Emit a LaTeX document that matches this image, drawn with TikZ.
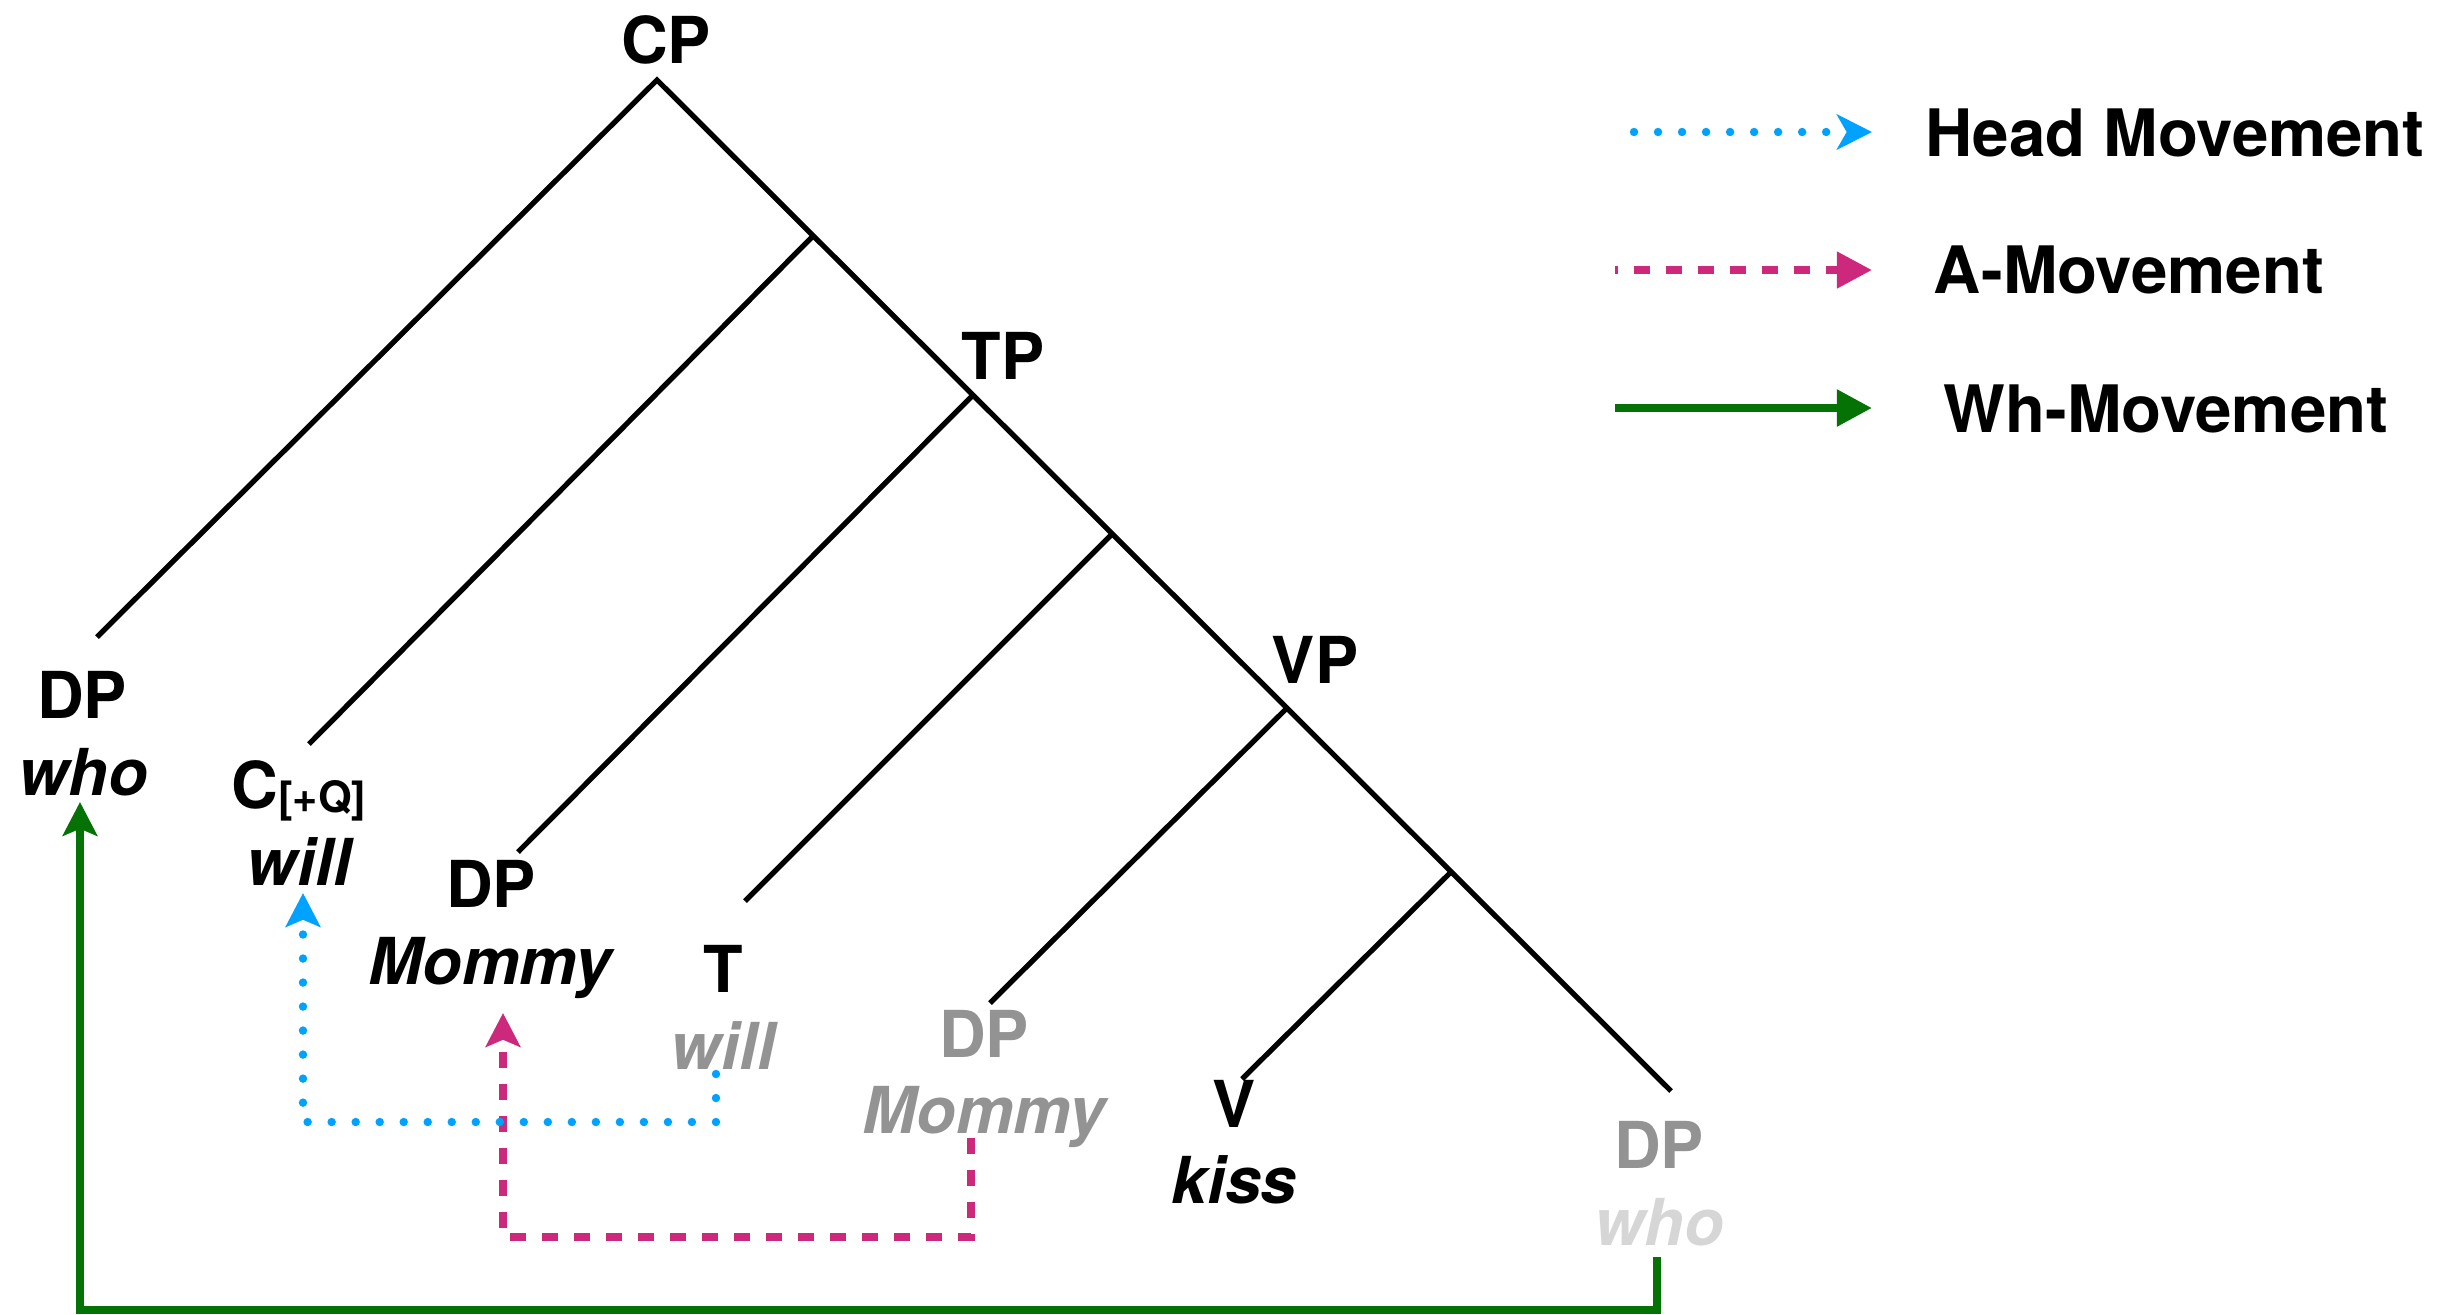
\documentclass[tikz,border=0pt]{standalone}
\usepackage{fontspec}
\setmainfont{TeX Gyre Heros}
\usetikzlibrary{arrows.meta,calc}
\definecolor{hmblue}{RGB}{0,162,255}
\definecolor{ampink}{RGB}{204,41,125}
\definecolor{whgreen}{RGB}{4,114,4}
\definecolor{trgray}{RGB}{147,147,147}
\definecolor{trlight}{RGB}{214,214,214}
\begin{document}
\begin{tikzpicture}[x=0.01cm,y=-0.01cm,
  lab/.style={inner sep=0pt, anchor=base, font=\fontsize{18.4}{22}\selectfont\bfseries},
  word/.style={inner sep=0pt, anchor=base, font=\fontsize{18.4}{22}\selectfont\bfseries\itshape},
  leg/.style={inner sep=0pt, anchor=base west, font=\fontsize{18.6}{22}\selectfont\bfseries},
  branch/.style={line width=1.5pt, black},
  treetip/.style={-{Stealth[length=9.6pt,width=9.8pt,inset=2pt]}},
  headmv/.style={hmblue, line width=2.4pt, line cap=round, dash pattern=on 0pt off 6.83pt},
  amv/.style={ampink, line width=2.1pt, dash pattern=on 4.55pt off 4.55pt},
  whmv/.style={whgreen, line width=2.1pt},
]
\useasboundingbox (0,0) rectangle (2454,1314);

% tree points
\coordinate (apex) at (657,80);
\coordinate (b1) at (813,236);
\coordinate (b2) at (973,395);
\coordinate (b3) at (1112,534);
\coordinate (b4) at (1287,708);
\coordinate (b5) at (1451,872);
\coordinate (e7) at (1671,1091);
\coordinate (e1) at (97,637);
\coordinate (e2) at (309,744);
\coordinate (e3) at (518,852);
\coordinate (e4) at (745,901);
\coordinate (e5) at (990,1003);
\coordinate (e6) at (1242,1079);

\draw[branch] (e1) -- (apex) -- (e7);
\draw[branch] (b1) -- (e2);
\draw[branch] (b2) -- (e3);
\draw[branch] (b3) -- (e4);
\draw[branch] (b4) -- (e5);
\draw[branch] (b5) -- (e6);

% labels
\node[lab] (cp) at (666,63) {CP};
\node[lab] (tp) at (1003,379) {TP};
\node[lab] (vp) at (1315,683) {VP};
\node[lab] (dpw) at (82,718) {DP};
\node[word] (who) at (83,795) {who};
\node[lab] (nC) at (299,808) {C\raisebox{-1.4pt}{\fontsize{12.3}{14}\selectfont [+Q]}};
\node[word] (willc) at (299,885) {will};
\node[lab] (dpm) at (491,907) {DP};
\node[word] (mommy) at (490,984) {Mommy};
\node[lab] (nT) at (723,992) {T};
\node[word, text=trgray] (willt) at (723,1069) {will};
\node[lab, text=trgray] (dpmt) at (984,1057) {DP};
\node[word, text=trgray] (mommyt) at (984,1133) {Mommy};
\node[lab] (nV) at (1234,1127) {V};
\node[word] (kiss) at (1234,1203) {kiss};
\node[lab, text=trgray] (dpwt) at (1659,1168) {DP};
\node[word, text=trlight] (whot) at (1659,1245) {who};

% movement arrows
\coordinate (gb) at (0,1310);
\coordinate (pb) at (0,1237);
\coordinate (hb) at (0,1122);
\coordinate (gs) at ($(whot.base)+(-2,12)$);
\coordinate (ge) at ($(who.base)+(-3,7)$);
\coordinate (ps) at ($(mommyt.base)+(-13,5)$);
\coordinate (pe) at ($(mommy.base)+(13,29)$);
\coordinate (hs0) at ($(willt.base)+(-7,5)$);
\coordinate (he0) at ($(willc.base)+(4,8)$);
\draw[whmv, treetip] (gs) -- (gs |- gb) -| (ge);
\draw[amv, treetip] (ps) -- (ps |- pb) -| (pe);
\draw[headmv, treetip] (hs0) -- (hs0 |- hb) -| (he0);

% legend
\coordinate (hs) at (1634,132); \coordinate (he) at (1872,132);
\coordinate (as) at (1615,270); \coordinate (ae) at (1872,270);
\coordinate (ws) at (1615,408); \coordinate (we) at (1872,408);
\draw[headmv, -{Stealth[length=10pt,width=10pt,inset=2.8pt]}] (hs) -- (he);
\draw[amv, dash phase=3.7pt, -{Triangle[length=10pt,width=10pt]}] (as) -- (ae);
\draw[whmv, line width=2.3pt, -{Triangle[length=10pt,width=10pt]}] (ws) -- (we);
\node[leg] (lh) at (1925,156) {Head Movement};
\node[leg] (la) at (1933,293) {A-Movement};
\node[leg] (lw) at (1943,432) {Wh-Movement};
\end{tikzpicture}
\end{document}
